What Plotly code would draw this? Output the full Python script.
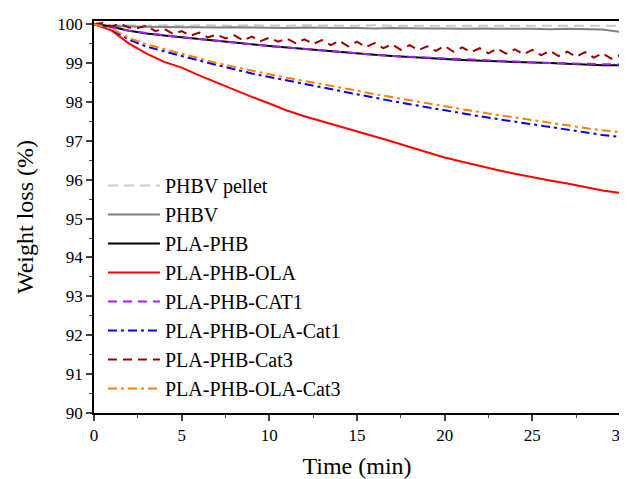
import plotly.graph_objects as go

# ---- data ----
t_min = list(range(0, 31))
t_half = [i * 0.5 for i in range(0, 61)]

phbv_pellet = [100.0, 99.97, 99.97, 99.96, 99.97, 99.96, 99.97, 99.96, 99.96, 99.97, 99.96,
               99.96, 99.97, 99.96, 99.96, 99.96, 99.97, 99.96, 99.96, 99.96, 99.96,
               99.96, 99.96, 99.96, 99.96, 99.96, 99.96, 99.96, 99.96, 99.96, 99.96]
phbv = [100.0, 99.95, 99.94, 99.93, 99.93, 99.92, 99.92, 99.91, 99.92, 99.91, 99.91,
        99.9, 99.91, 99.9, 99.9, 99.9, 99.89, 99.9, 99.89, 99.89, 99.89,
        99.88, 99.89, 99.88, 99.88, 99.88, 99.87, 99.88, 99.87, 99.86, 99.8]
pla_phb = [100.0, 99.93, 99.83, 99.76, 99.71, 99.67, 99.62, 99.57, 99.52, 99.48, 99.44,
           99.4, 99.36, 99.32, 99.28, 99.24, 99.21, 99.18, 99.15, 99.13, 99.1,
           99.08, 99.06, 99.05, 99.03, 99.01, 99.0, 98.98, 98.97, 98.94, 98.94]
pla_phb_ola = [100.0, 99.84, 99.5, 99.24, 99.03, 98.88, 98.68, 98.49, 98.3, 98.13, 97.96,
               97.78, 97.63, 97.5, 97.37, 97.25, 97.12, 96.98, 96.84, 96.7, 96.57,
               96.46, 96.35, 96.25, 96.15, 96.06, 95.98, 95.9, 95.8, 95.72, 95.66]
pla_phb_cat1 = [100.0, 99.92, 99.83, 99.77, 99.71, 99.66, 99.62, 99.57, 99.52, 99.48, 99.44,
                99.4, 99.36, 99.32, 99.28, 99.24, 99.21, 99.18, 99.16, 99.13, 99.11,
                99.09, 99.07, 99.05, 99.03, 99.02, 99.0, 98.99, 98.98, 98.96, 98.96]
pla_phb_ola_cat1 = [100.0, 99.86, 99.6, 99.42, 99.3, 99.18, 99.07, 98.95, 98.84, 98.73, 98.64,
                    98.55, 98.46, 98.37, 98.28, 98.2, 98.11, 98.02, 97.94, 97.86, 97.78,
                    97.71, 97.63, 97.56, 97.49, 97.42, 97.36, 97.29, 97.22, 97.15, 97.1]
pla_phb_cat3 = [100.0, 100.03, 99.94, 100.01, 99.91, 99.9, 99.96, 99.82, 99.88, 99.75, 99.82,
                99.7, 99.78, 99.66, 99.73, 99.63, 99.71, 99.58, 99.68, 99.56, 99.65,
                99.55, 99.63, 99.51, 99.61, 99.49, 99.59, 99.46, 99.57, 99.43, 99.55,
                99.41, 99.51, 99.38, 99.48, 99.34, 99.46, 99.33, 99.43, 99.31, 99.44,
                99.29, 99.4, 99.28, 99.38, 99.25, 99.37, 99.24, 99.35, 99.22, 99.34,
                99.2, 99.31, 99.18, 99.29, 99.16, 99.28, 99.14, 99.25, 99.11, 99.2]
pla_phb_ola_cat3 = [100.0, 99.88, 99.64, 99.48, 99.36, 99.24, 99.12, 99.0, 98.9, 98.8, 98.71,
                    98.62, 98.54, 98.45, 98.37, 98.29, 98.2, 98.12, 98.04, 97.96, 97.88,
                    97.81, 97.74, 97.66, 97.6, 97.53, 97.46, 97.4, 97.33, 97.27, 97.22]

x_ticks = [0, 5, 10, 15, 20, 25, 30]
y_ticks = list(range(90, 101))

FONT = "Palatino Linotype, Book Antiqua, Palatino, Liberation Serif, serif"

series = [
    ("PHBV pellet", t_min, phbv_pellet, "#c8c8c8", "10px,6px"),
    ("PHBV", t_min, phbv, "#808080", "solid"),
    ("PLA-PHB", t_min, pla_phb, "#000000", "solid"),
    ("PLA-PHB-OLA", t_min, pla_phb_ola, "#ff0000", "solid"),
    ("PLA-PHB-CAT1", t_min, pla_phb_cat1, "#a020f0", "9px,6px"),
    ("PLA-PHB-OLA-Cat1", t_min, pla_phb_ola_cat1, "#0000ff", "9px,4px,3px,4px"),
    ("PLA-PHB-Cat3", t_half, pla_phb_cat3, "#990000", "9px,6px"),
    ("PLA-PHB-OLA-Cat3", t_min, pla_phb_ola_cat3, "#ff8000", "9px,4px,3px,4px"),
]

fig = go.Figure()
for i, (name, x, y, color, dash) in enumerate(series):
    fig.add_trace(go.Scatter(x=x, y=y, mode="lines", name=name,
                             line=dict(color=color, width=2, dash=dash)))

# the page body adds an 8px margin, so the figure is offset accordingly
fig.update_layout(
    width=619, height=471,
    margin=dict(l=86, r=7, t=13, b=66),
    paper_bgcolor="white", plot_bgcolor="white",
    font=dict(family=FONT, color="black", size=17),
    showlegend=True,
    legend=dict(x=0.017, y=0.630, xanchor="left", yanchor="top",
                bgcolor="rgba(0,0,0,0)", font=dict(size=20, family=FONT),
                traceorder="normal", itemwidth=52),
)
fig.update_xaxes(range=[0, 30], tickvals=x_ticks, ticks="outside", ticklen=6, tickwidth=1.5,
                 showline=True, linewidth=1.5, linecolor="black", mirror=True, showgrid=False,
                 zeroline=False, tickfont=dict(size=17), automargin=False,
                 ticklabeloverflow="allow",
                 minor=dict(dtick=2.5, ticks="outside", ticklen=3, tickwidth=1.2),
                 title=dict(text="Time (min)", font=dict(size=24), standoff=13))
fig.update_yaxes(range=[90, 100.08], tickvals=y_ticks, ticks="outside", ticklen=6, tickwidth=1.5,
                 showline=True, linewidth=1.5, linecolor="black", mirror=True, showgrid=False,
                 zeroline=False, tickfont=dict(size=17), automargin=False,
                 minor=dict(dtick=0.5, ticks="outside", ticklen=3, tickwidth=1.2),
                 title=dict(text="Weight loss (%)", font=dict(size=24), standoff=17))

fig.write_html("out.html")
